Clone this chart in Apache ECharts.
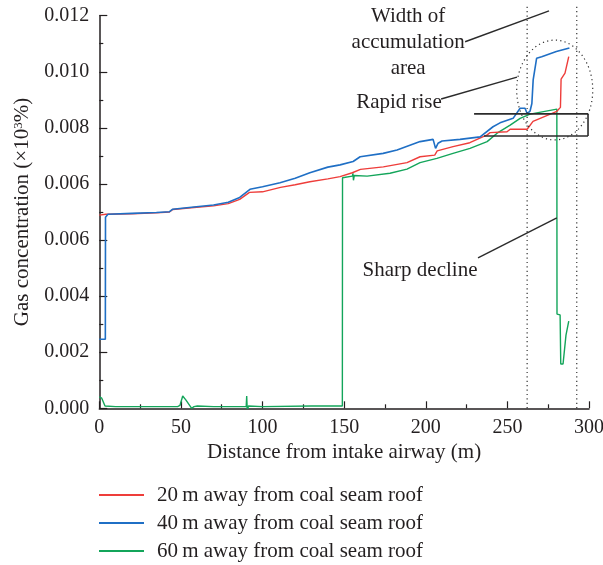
<!DOCTYPE html>
<html>
<head>
<meta charset="utf-8">
<script src="https://cdn.jsdelivr.net/npm/echarts@6/dist/echarts.min.js"></script>
<style>
html,body{margin:0;padding:0;background:#fff;}
#c{width:603px;height:565px;}
</style>
</head>
<body>
<div id="c"></div>
<script>
// ---- data (x: distance in m, y: value on the drawn axis scale) ----
var yTickLabels = ['0.000', '0.002', '0.004', '0.006', '0.006', '0.008', '0.010', '0.012'];
var xTickLabels = ['0', '50', '100', '150', '200', '250', '300'];
var seriesNames = ['20\u2009m away from coal seam roof', '40\u2009m away from coal seam roof', '60\u2009m away from coal seam roof'];

var red20 = [
  [0, 0.00689], [4, 0.00692], [20, 0.00694], [35, 0.00697], [43, 0.00700], [45, 0.00709],
  [58, 0.00716], [70, 0.00722], [79, 0.00730], [86, 0.00745], [92, 0.00770], [100, 0.00772],
  [111, 0.00788], [120, 0.00797], [129, 0.00808], [140, 0.00818], [147.5, 0.00826], [155, 0.00840],
  [160, 0.00852], [174, 0.00861], [188.5, 0.00876], [196.5, 0.00897], [205.5, 0.00903], [207, 0.00918],
  [216.7, 0.00933], [227, 0.00947], [237.6, 0.00975], [239.4, 0.00983], [249.8, 0.00986], [251.7, 0.00995],
  [262.1, 0.00995], [265.7, 0.01023], [280.3, 0.01059], [282.5, 0.01073], [282.9, 0.01174],
  [285.3, 0.01195], [287.6, 0.01254]
];
var blue40 = [
  [0, 0.00246], [3.7, 0.00246], [3.8, 0.00681], [5.3, 0.00692], [20, 0.00695], [35, 0.00698],
  [43, 0.00701], [45, 0.00710], [58, 0.00718], [70, 0.00725], [79, 0.00735], [86, 0.00752],
  [92.3, 0.00781], [100, 0.00790], [110.7, 0.00804], [120, 0.00820], [129, 0.00840], [140, 0.00860],
  [147.5, 0.00868], [155.5, 0.00880], [159.8, 0.00897], [173.9, 0.00909], [182.4, 0.00921],
  [196.5, 0.00951], [204.5, 0.00959], [205.5, 0.00962], [206, 0.00927], [207.5, 0.00945],
  [210, 0.00953], [221, 0.00959], [233.3, 0.00968], [241.2, 0.01004], [245.5, 0.01018],
  [253.5, 0.01034], [257.8, 0.01070], [260.8, 0.01070], [262.1, 0.01051], [263.9, 0.01060],
  [265.0, 0.01087], [265.8, 0.01171], [267.9, 0.01248], [271.0, 0.01254], [280, 0.01272], [288.0, 0.01285]
];
var green60 = [
  [0, 0.00041], [1.5, 0.00036], [3.5, 0.00008], [10, 0.00006], [30, 0.00006], [48, 0.00006],
  [49.4, 0.00010], [51.1, 0.00044], [53, 0.00030], [56.6, 0.00000], [58, 0.00006], [60, 0.00008],
  [70, 0.00006], [90, 0.00006], [90.3, 0.00044], [90.7, -0.00017], [91.3, 0.00008], [100, 0.00006],
  [130, 0.00008], [148.9, 0.00008], [149.0, 0.00822], [155, 0.00828], [155.4, 0.00838], [155.7, 0.00813],
  [156.2, 0.00830], [157, 0.00824], [164.1, 0.00828], [178.1, 0.00838], [188.5, 0.00853],
  [196.5, 0.00876], [206.8, 0.00891], [216.7, 0.00909], [227.1, 0.00927], [237.6, 0.00951],
  [243.7, 0.00981], [251.7, 0.01010], [257.8, 0.01034], [263.9, 0.01049], [280.3, 0.01067],
  [280.4, 0.00336], [282.3, 0.00333], [282.7, 0.00158], [284.1, 0.00158], [285.9, 0.00261], [287.6, 0.00311]
];

// ---- annotations, in data coordinates ----
var dottedX = [262.1, 292.5];
var dottedTop = 0.01438;
var ellipseCenter = [279.0, 0.01135], ellipseRx = 23.3, ellipseRy = 0.00178;
var boxTop = [[229.6, 0.01050], [299.4, 0.01050]];
var boxBottom = [[235.7, 0.00971], [299.4, 0.00971]];
var widthLine = [[224.1, 0.01307], [275.5, 0.01417]];
var riseLine = [[209.4, 0.01103], [255.9, 0.01181]];
var declineLine = [[232, 0.00536], [280.3, 0.00679]];
var widthText = {pos: [189.2, 0.01306], text: 'Width of\naccumulation\narea'};
var riseText = {pos: [183.6, 0.01089], text: 'Rapid rise'};
var declineText = {pos: [196.5, 0.00490], text: 'Sharp decline'};

var FONT = 'Liberation Serif';
var FS = 20, FS2 = 21;
var INK = '#231f20';
var colors = ['#ee3d3a', '#1f6fc5', '#13a55a'];

var chart = echarts.init(document.getElementById('c'), null, {renderer: 'canvas'});
var option = {
  animation: false,
  backgroundColor: '#fff',
  textStyle: {fontFamily: FONT, color: INK},
  grid: {left: 99.3, top: 15.7, right: 14, bottom: 156.7, containLabel: false, outerBoundsMode: 'none'},
  xAxis: {
    type: 'value', min: 0, max: 300, interval: 50,
    name: 'Distance from intake airway (m)', nameLocation: 'middle', nameGap: 34,
    nameTextStyle: {fontFamily: FONT, fontSize: FS2, color: INK},
    axisLine: {show: true, onZero: false, lineStyle: {color: INK, width: 1.5}},
    axisTick: {show: true, inside: true, length: 7, lineStyle: {color: INK, width: 1.2}},
    minorTick: {show: true, splitNumber: 2, length: 4, lineStyle: {color: INK, width: 1.2}},
    splitLine: {show: false},
    axisLabel: {fontFamily: FONT, fontSize: FS, color: INK, margin: 9,
      formatter: function (v) { return xTickLabels[Math.round(v / 50)]; }}
  },
  yAxis: {
    type: 'value', min: 0, max: 0.014, interval: 0.002,
    name: 'Gas concentration (\u00d710{sup|3}%)', nameLocation: 'middle', nameGap: 66, nameRotate: 90,
    nameTextStyle: {fontFamily: FONT, fontSize: FS2, color: INK,
      rich: {sup: {fontFamily: FONT, fontSize: 13, color: INK, verticalAlign: 'top', padding: [0, 0, 8, 0]}}},
    axisLine: {show: true, onZero: false, lineStyle: {color: INK, width: 1.5}},
    axisTick: {show: true, inside: true, length: 8, lineStyle: {color: INK, width: 1.2}},
    minorTick: {show: true, splitNumber: 2, length: 4, lineStyle: {color: INK, width: 1.2}},
    splitLine: {show: false},
    axisLabel: {fontFamily: FONT, fontSize: FS, color: INK, margin: 10,
      formatter: function (v) { return yTickLabels[Math.round(v / 0.002)]; }}
  },
  legend: {
    orient: 'vertical', left: 99, top: 484, padding: 0, height: 81,
    itemWidth: 45, itemHeight: 2, itemGap: 6, icon: 'rect',
    textStyle: {fontFamily: FONT, fontSize: FS2, color: INK, lineHeight: 22, padding: [0, 0, 0, 8]},
    data: seriesNames
  },
  series: [
    {name: seriesNames[0], type: 'line', data: red20, symbol: 'none', lineStyle: {color: colors[0], width: 1.4}, itemStyle: {color: colors[0]}, z: 3},
    {name: seriesNames[1], type: 'line', data: blue40, symbol: 'none', lineStyle: {color: colors[1], width: 1.6}, itemStyle: {color: colors[1]}, z: 4},
    {name: seriesNames[2], type: 'line', data: green60, symbol: 'none', lineStyle: {color: colors[2], width: 1.4}, itemStyle: {color: colors[2]}, z: 2}
  ]
};
chart.setOption(option);

function px(p) { return chart.convertToPixel({gridIndex: 0}, p); }
var dotStyle = {stroke: '#333', lineWidth: 1.2, lineDash: [1.2, 3.2], fill: null};
var g = [];
dottedX.forEach(function (x) {
  var a = px([x, 0]), b = px([x, dottedTop]);
  g.push({type: 'line', shape: {x1: a[0], y1: a[1], x2: b[0], y2: b[1]}, style: dotStyle, z: 10});
});
var c = px(ellipseCenter);
var r1 = px([ellipseCenter[0] + ellipseRx, ellipseCenter[1] + ellipseRy]);
g.push({type: 'ellipse', shape: {cx: c[0], cy: c[1], rx: Math.abs(r1[0] - c[0]), ry: Math.abs(r1[1] - c[1])}, style: dotStyle, z: 10});
function solid(seg, w) {
  var a = px(seg[0]), b = px(seg[1]);
  g.push({type: 'line', shape: {x1: a[0], y1: a[1], x2: b[0], y2: b[1]}, style: {stroke: '#2b2b2b', lineWidth: w || 1.4}, z: 11});
}
solid(boxTop, 1.6); solid(boxBottom, 1.6);
solid([boxTop[1], boxBottom[1]], 1.6);
solid(widthLine); solid(riseLine); solid(declineLine);
[widthText, riseText, declineText].forEach(function (t) {
  var p = px(t.pos);
  g.push({type: 'text', x: p[0], y: p[1], z: 12,
    style: {text: t.text, font: FS2 + 'px "' + FONT + '"', fill: INK, align: 'center', verticalAlign: 'middle', lineHeight: 26}});
});
chart.setOption({graphic: g});
</script>
</body>
</html>
